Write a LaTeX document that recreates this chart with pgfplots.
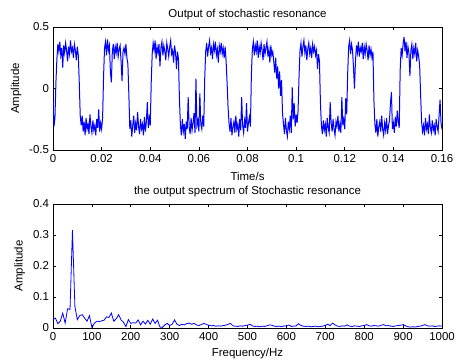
\documentclass[border=0pt]{standalone}
\usepackage{fontspec}
\setmainfont{Liberation Sans}
\usepackage{pgfplots}
\pgfplotsset{compat=1.18}
\usepackage{pgfplotstable}

\pgfplotstableread[row sep=\\]{
y\\
-0.10\\ -0.31\\ -0.24\\ 0.05\\
0.24\\ 0.36\\ 0.30\\ 0.38\\ 0.27\\ 0.33\\ 0.17\\ 0.35\\ 0.29\\ 0.37\\ 0.31\\ 0.22\\ 0.34\\ 0.28\\ 0.39\\ 0.30\\ 0.33\\ 0.25\\ 0.36\\ 0.31\\ 0.23\\ 0.34\\ 0.27\\
0.05\\ -0.22\\
-0.30\\ -0.22\\ -0.35\\ -0.27\\ -0.38\\ -0.24\\ -0.33\\ -0.29\\ -0.37\\ -0.21\\ -0.31\\ -0.36\\ -0.26\\ -0.34\\ -0.30\\ -0.38\\ -0.25\\ -0.32\\ -0.17\\ -0.35\\ -0.28\\ -0.33\\ -0.24\\
0.10\\
0.33\\ 0.38\\ 0.27\\ 0.40\\ 0.31\\ 0.35\\ 0.14\\ 0.05\\ 0.30\\ 0.36\\ 0.24\\ 0.34\\ 0.29\\ 0.37\\ 0.26\\ 0.32\\ 0.35\\ 0.22\\ 0.06\\ 0.30\\ 0.33\\ 0.28\\ 0.36\\ 0.25\\ 0.20\\
-0.05\\
-0.33\\ -0.26\\ -0.39\\ -0.30\\ -0.22\\ -0.36\\ -0.28\\ -0.34\\ -0.19\\ -0.31\\ -0.37\\ -0.25\\ -0.33\\ -0.29\\ -0.38\\ -0.23\\ -0.35\\ -0.27\\ -0.11\\ -0.32\\ -0.24\\ -0.30\\
0.05\\
0.28\\ 0.37\\ 0.31\\ 0.39\\ 0.24\\ 0.34\\ 0.29\\ 0.36\\ 0.18\\ 0.33\\ 0.38\\ 0.27\\ 0.35\\ 0.30\\ 0.23\\ 0.37\\ 0.32\\ 0.26\\ 0.34\\ 0.39\\ 0.28\\ 0.31\\ 0.21\\ 0.35\\ 0.29\\ 0.16\\ 0.30\\ 0.24\\
-0.08\\
-0.30\\ -0.38\\ -0.25\\ -0.35\\ -0.29\\ -0.41\\ -0.27\\ -0.33\\ -0.07\\ -0.31\\ -0.37\\ -0.24\\ -0.34\\ -0.28\\ -0.20\\ -0.36\\ 0.08\\ -0.30\\ -0.26\\ -0.35\\ -0.04\\ -0.29\\ -0.33\\ -0.22\\ -0.31\\
0.08\\
0.30\\ 0.37\\ 0.26\\ 0.34\\ 0.39\\ 0.29\\ 0.33\\ 0.24\\ 0.36\\ 0.31\\ 0.38\\ 0.27\\ 0.32\\ 0.21\\ 0.35\\ 0.30\\ 0.37\\ 0.28\\ 0.33\\ 0.25\\ 0.34\\ 0.22\\
0.05\\ -0.15\\
-0.28\\ -0.35\\ -0.24\\ -0.38\\ -0.31\\ -0.27\\ -0.36\\ -0.22\\ -0.33\\ -0.29\\ -0.39\\ -0.25\\ -0.34\\ -0.07\\ -0.30\\ -0.36\\ -0.26\\ -0.32\\ -0.12\\ -0.35\\ -0.28\\ -0.23\\ -0.31\\
0.12\\
0.32\\ 0.38\\ 0.27\\ 0.35\\ 0.30\\ 0.39\\ 0.25\\ 0.34\\ 0.29\\ 0.37\\ 0.31\\ 0.23\\ 0.36\\ 0.28\\ 0.33\\ 0.38\\ 0.26\\ 0.32\\ 0.21\\ 0.35\\ 0.27\\ 0.30\\ 0.22\\ 0.13\\ 0.25\\ 0.08\\ 0.18\\ 0.00\\ 0.14\\ -0.06\\ 0.07\\
-0.20\\
-0.29\\ -0.37\\ -0.24\\ -0.34\\ -0.39\\ -0.27\\ -0.33\\ -0.22\\ -0.36\\ 0.01\\ -0.25\\ -0.12\\ -0.31\\ -0.21\\ -0.28\\ -0.18\\
0.10\\
0.31\\ 0.37\\ 0.26\\ 0.34\\ 0.39\\ 0.29\\ 0.35\\ 0.23\\ 0.32\\ 0.37\\ 0.28\\ 0.33\\ 0.25\\ 0.36\\ 0.30\\ 0.34\\ 0.27\\ 0.31\\ 0.16\\ 0.28\\ 0.22\\
-0.12\\
-0.30\\ -0.37\\ -0.26\\ -0.34\\ -0.29\\ -0.39\\ -0.24\\ -0.32\\ -0.36\\ -0.11\\ -0.28\\ -0.35\\ -0.25\\ -0.33\\ -0.38\\ -0.27\\ -0.31\\ -0.22\\ -0.35\\ -0.29\\ -0.36\\ -0.07\\ -0.30\\ -0.25\\ -0.33\\ -0.08\\ -0.21\\
0.12\\
0.34\\ 0.39\\ 0.28\\ 0.36\\ 0.31\\ 0.17\\ 0.00\\ 0.22\\ 0.35\\ 0.29\\ 0.38\\ 0.26\\ 0.33\\ 0.30\\ 0.37\\ 0.24\\ 0.34\\ 0.28\\ 0.36\\ 0.31\\ 0.23\\ 0.35\\ 0.27\\ 0.32\\ 0.25\\ 0.30\\
-0.10\\
-0.29\\ -0.36\\ -0.25\\ -0.39\\ -0.31\\ -0.27\\ -0.35\\ -0.22\\ -0.33\\ -0.38\\ -0.28\\ -0.34\\ -0.24\\ -0.37\\ -0.30\\ -0.26\\ -0.12\\ -0.03\\ -0.33\\ -0.28\\ -0.36\\ -0.23\\ -0.31\\ -0.18\\ -0.27\\ -0.32\\
0.15\\
0.33\\ 0.27\\ 0.36\\ 0.42\\ 0.30\\ 0.38\\ 0.25\\ 0.34\\ 0.29\\ 0.10\\ 0.31\\ 0.36\\ 0.24\\ 0.33\\ 0.28\\ 0.37\\ 0.22\\ 0.31\\ 0.26\\ 0.19\\
-0.05\\
-0.27\\ -0.35\\ -0.30\\ -0.38\\ -0.24\\ -0.33\\ -0.29\\ -0.37\\ -0.21\\ -0.32\\ -0.36\\ -0.26\\ -0.34\\ -0.30\\ -0.38\\ -0.25\\ -0.31\\ -0.35\\ -0.22\\ -0.09\\ -0.28\\ -0.33\\
}\sigtab

\pgfplotstableread[row sep=\\]{
a\\
0.028\\ 0.032\\ 0.014\\ 0.022\\ 0.048\\ 0.016\\ 0.062\\ 0.060\\ 0.316\\ 0.070\\
0.027\\ 0.040\\ 0.043\\ 0.032\\ 0.022\\ 0.040\\ 0.002\\ 0.015\\ 0.022\\ 0.021\\
0.023\\ 0.025\\ 0.036\\ 0.034\\ 0.048\\ 0.022\\ 0.030\\ 0.043\\ 0.026\\ 0.018\\
0.005\\ 0.027\\ 0.015\\ 0.017\\ 0.016\\ 0.026\\ 0.010\\ 0.022\\ 0.013\\ 0.025\\
0.012\\ 0.029\\ 0.015\\ 0.025\\ 0.003\\ 0.002\\ 0.010\\ 0.015\\ 0.008\\ 0.012\\
0.026\\ 0.012\\ 0.008\\ 0.012\\ 0.010\\ 0.014\\ 0.016\\ 0.012\\ 0.015\\ 0.010\\
0.008\\ 0.011\\ 0.015\\ 0.012\\ 0.009\\ 0.007\\ 0.008\\ 0.006\\ 0.007\\ 0.006\\
0.008\\ 0.009\\ 0.012\\ 0.015\\ 0.007\\ 0.006\\ 0.005\\ 0.007\\ 0.006\\ 0.008\\
0.009\\ 0.012\\ 0.007\\ 0.005\\ 0.006\\ 0.004\\ 0.006\\ 0.005\\ 0.007\\ 0.010\\
0.009\\ 0.006\\ 0.005\\ 0.006\\ 0.004\\ 0.007\\ 0.006\\ 0.010\\ 0.005\\ 0.006\\
0.007\\ 0.014\\ 0.008\\ 0.006\\ 0.005\\ 0.006\\ 0.004\\ 0.005\\ 0.006\\ 0.004\\
0.005\\ 0.006\\ 0.009\\ 0.012\\ 0.008\\ 0.016\\ 0.010\\ 0.006\\ 0.005\\ 0.007\\
0.006\\ 0.010\\ 0.006\\ 0.005\\ 0.007\\ 0.006\\ 0.005\\ 0.007\\ 0.008\\ 0.011\\
0.007\\ 0.006\\ 0.008\\ 0.007\\ 0.006\\ 0.009\\ 0.011\\ 0.007\\ 0.008\\ 0.006\\
0.005\\ 0.007\\ 0.008\\ 0.009\\ 0.011\\ 0.007\\ 0.004\\ 0.003\\ 0.004\\ 0.003\\
0.005\\ 0.006\\ 0.008\\ 0.011\\ 0.007\\ 0.006\\ 0.007\\ 0.005\\ 0.006\\ 0.007\\
0.006\\
}\spectab

\pgfplotsset{
  every axis title shift=0pt,
  mstyle/.style={
    scale only axis,
    width=291.75pt,
    font=\fontsize{8.6}{10}\selectfont,
    axis line style={line width=0.5pt},
    tick align=inside,
    tick pos=both,
    major tick length=2.5pt,
    tick style={line width=0.5pt, black},
    xticklabel style={inner sep=2.9pt},
    yticklabel style={inner sep=2.8pt},
    title style={at={(0.5,1)}, anchor=base, yshift=7.5pt},
  }
}

\begin{document}
\begin{tikzpicture}
\useasboundingbox (0,0) rectangle (342pt,271.5pt);
\begin{axis}[mstyle,
  at={(39.75pt,159pt)}, anchor=south west,
  height=92.25pt,
  xmin=0, xmax=0.16, ymin=-0.5, ymax=0.5,
  xtick={0,0.02,0.04,0.06,0.08,0.1,0.12,0.14,0.16},
  xticklabels={0,0.02,0.04,0.06,0.08,0.1,0.12,0.14,0.16},
  ytick={-0.5,0,0.5},
  yticklabels={-0.5,0,0.5},
  title={Output of stochastic resonance},
  xlabel={Time/s},
  ylabel={Amplitude},
  xlabel style={at={(axis description cs:0.5,-0.245)}, anchor=base},
  ylabel style={at={(axis description cs:-0.087,0.5)}, anchor=base},
]
\addplot[blue, line width=0.75pt] table[x expr=\coordindex*0.0004, y=y] {\sigtab};
\end{axis}
\begin{axis}[mstyle,
  at={(39.75pt,25.5pt)}, anchor=south west,
  height=93pt,
  xmin=0, xmax=1000, ymin=0, ymax=0.4,
  xtick={0,100,200,300,400,500,600,700,800,900,1000},
  xticklabels={0,100,200,300,400,500,600,700,800,900,1000},
  ytick={0,0.1,0.2,0.3,0.4},
  yticklabels={0,0.1,0.2,0.3,0.4},
  title={the output spectrum of Stochastic resonance},
  xlabel={Frequency/Hz},
  ylabel={Amplitude},
  xlabel style={at={(axis description cs:0.5,-0.231)}, anchor=base},
  ylabel style={at={(axis description cs:-0.078,0.5)}, anchor=base},
]
\addplot[blue, line width=0.6pt] table[x expr=\coordindex*6.25, y=a] {\spectab};
\end{axis}
\end{tikzpicture}
\end{document}
